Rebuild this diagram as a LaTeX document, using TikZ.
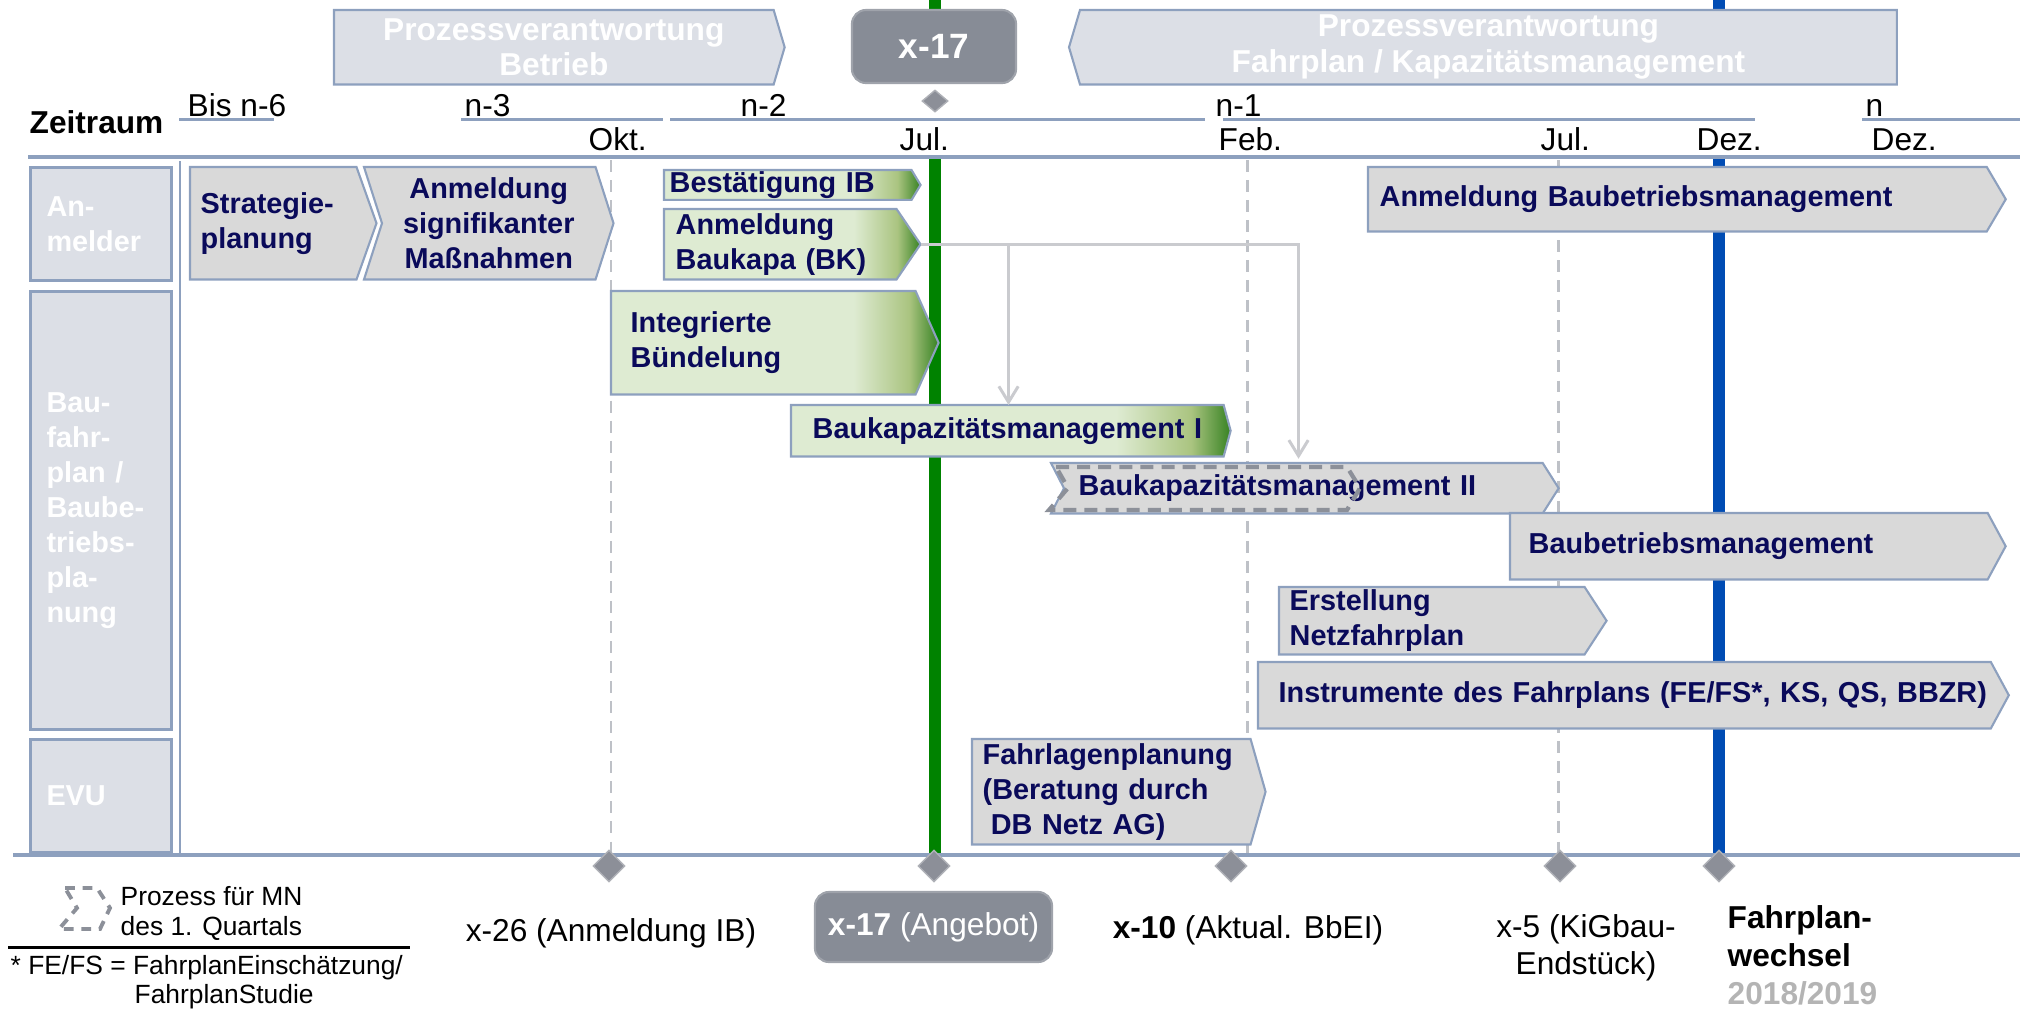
\documentclass[tikz,border=0pt]{standalone}
\usepackage{fontspec}
\setmainfont{Liberation Sans}
\usetikzlibrary{shapes.geometric,calc,arrows.meta}

\definecolor{linie}{HTML}{8DA0BE}
\definecolor{spurfill}{HTML}{DCDFE6}
\definecolor{prozfill}{HTML}{D9D9D9}
\definecolor{dbnavy}{RGB}{10,10,90}
\definecolor{dunkelgrau}{HTML}{878C96}
\definecolor{raute}{HTML}{8C8F98}
\definecolor{gruen}{RGB}{0,130,0}
\definecolor{blau}{RGB}{0,76,180}
\definecolor{strich}{HTML}{BEC1C7}
\definecolor{pfeil}{HTML}{CACBCF}
\definecolor{gl}{RGB}{222,235,210}
\definecolor{gm}{RGB}{170,196,128}
\definecolor{gd}{RGB}{55,130,35}
\definecolor{mngrau}{HTML}{8C9099}
\definecolor{jahr}{HTML}{B4B4B4}

\pgfdeclarehorizontalshading{gruenverlauf}{100bp}{color(0bp)=(gl); color(25bp)=(gl); color(62bp)=(gl); color(70.5bp)=(gm); color(75bp)=(gd); color(100bp)=(gd)}

\pgfdeclarelayer{linien}
\pgfdeclarelayer{hinten}
\pgfsetlayers{linien,hinten,main}

% box outline behind a node: name, notch, tip, style
\newcommand{\chevron}[4]{%
 \begin{pgfonlayer}{hinten}
  \path[#4] ($(#1.north west)+(-#2,0)$) -- (#1.north east) -- ($(#1.east)+(#3,0)$) -- (#1.south east) -- ($(#1.south west)+(-#2,0)$) -- (#1.west) -- cycle;
 \end{pgfonlayer}}

\tikzset{
 spur/.style={draw=linie, line width=0.85pt, fill=spurfill, anchor=north west, text=white, font=\fontsize{8.2}{10}\selectfont\bfseries, align=left, inner xsep=0.16cm, inner ysep=0pt, text width=1.09cm, minimum height=#1},
 kasten/.style={draw=linie, line width=0.6pt, fill=prozfill},
 kopfkasten/.style={draw=linie, line width=0.6pt, fill=spurfill},
 gkasten/.style={draw=linie, line width=0.6pt, shade, shading=gruenverlauf},
 prozess/.style={anchor=north west, inner ysep=0pt, text=dbnavy, font=\fontsize{8.2}{10}\selectfont\bfseries, align=left},
 kopf/.style={anchor=north west, inner sep=0pt, text=white, font=\fontsize{9}{10.2}\selectfont\bfseries, align=center},
 zeit/.style={inner sep=0pt, anchor=base west, font=\fontsize{9}{11}\selectfont},
 unten/.style={inner sep=0pt, font=\fontsize{9}{10.5}\selectfont},
 legende/.style={inner sep=0pt, font=\fontsize{7.5}{8.5}\selectfont},
 meilenstein/.style={diamond, fill=raute, draw=raute!70!white, line width=0.4pt, minimum width=0.32cm, minimum height=0.32cm, inner sep=0pt},
 gitter/.style={strich, line width=0.85pt, dash pattern=on 3.4pt off 2.3pt},
 zweig/.style={pfeil, line width=0.85pt},
 marke/.style={fill=dunkelgrau, draw=dunkelgrau!80!white, line width=0.6pt, rounded corners=4pt, text=white, inner sep=0pt},
}

\begin{document}
\begin{tikzpicture}[x=0.01cm, y=-0.01cm]
 \useasboundingbox (0,0) rectangle (2020,1008);

 % zeitleiste
 \node[zeit, font=\fontsize{9}{11}\selectfont\bfseries] (zeitraum) at (29,133) {Zeitraum};
 \foreach \x/\t/\n in {187/Bis n-6/j6, 464/n-3/j3, 740/n-2/j2, 1215/n-1/j1, 1865/n/j0}
  \node[zeit] (\n) at (\x,116) {\t};
 \foreach \x/\t/\n in {588/Okt./okt, 899/Jul./jul1, 1218/Feb./feb, 1540/Jul./jul2, 1696/Dez./dez1, 1871/Dez./dez2}
  \node[zeit] (\n) at (\x,150) {\t};
 \foreach \a/\b in {179/274, 461/663, 670/1205, 1223/1755, 1862/2020}
  \draw[linie, line width=0.85pt] (\a,119) -- (\b,119);
 \draw[linie, line width=1.15pt] (28,157) -- (2020,157);
 \draw[linie, line width=1.15pt] (13,855) -- (2020,855);
 \draw[linie, line width=0.6pt] (180,161) -- (180,853);

 \begin{pgfonlayer}{linien}
  \foreach \x in {611,1247,1558}
   \draw[gitter] (\x,160) -- (\x,853);
  \draw[gruen, line width=3.5pt] (935,0) -- (935,12) (935,159) -- (935,854);
  \draw[blau, line width=3.6pt] (1719,0) -- (1719,12) (1719,159) -- (1719,854);
 \end{pgfonlayer}

 % spuren
 \node[spur=1.13cm] (anmelder) at (29,166) {An-\\melder};
 \node[spur=4.38cm] (bau) at (29,290) {Bau-\\fahr-\\plan /\\Baube-\\triebs-\\pla-\\nung};
 \node[spur=1.13cm] (evu) at (29,738) {EVU};

 % kopf
 \node[kopf, minimum width=4.38cm, minimum height=0.73cm] (betrieb) at (334,10) {Prozessverantwortung\\Betrieb};
 \chevron{betrieb}{0}{11}{kopfkasten}
 \node[kopf, minimum width=8.15cm, minimum height=0.73cm] (fahrplan) at (1080,10) {Prozessverantwortung\\Fahrplan / Kapazitätsmanagement};
 \begin{pgfonlayer}{hinten}
  \path[kopfkasten] (fahrplan.north west) -- (fahrplan.north east) -- (fahrplan.south east) -- (fahrplan.south west) -- ($(fahrplan.west)+(-11,0)$) -- cycle;
 \end{pgfonlayer}
 \node[marke, minimum width=1.64cm, minimum height=0.73cm, font=\fontsize{10}{12}\selectfont\bfseries] (xoben) at (934,46.5) {x-17};
 \node[meilenstein, minimum width=0.26cm, minimum height=0.22cm] (moben) at (935,101) {};

 % prozesse
 \node[prozess, inner xsep=0.1cm, text width=1.45cm, minimum height=1.11cm] (strategie) at (190,167) {Strategie-\\planung};
 \chevron{strategie}{0}{20}{kasten}
 \node[prozess, align=center, inner xsep=0pt, text width=2.12cm, minimum height=1.11cm] (signifikant) at (382,167) {Anmeldung\\signifikanter\\Maßnahmen};
 \chevron{signifikant}{18}{18}{kasten}
 \node[prozess, inner xsep=0.05cm, text width=2.36cm, text height=6.3pt, text depth=1.8pt] (bestaetigung) at (664,170) {\mbox{Bestätigung IB}};
 \chevron{bestaetigung}{0}{9}{gkasten}
 \node[prozess, inner xsep=0.11cm, text width=2.09cm, minimum height=0.69cm] (baukapa) at (664,209) {Anmeldung\\Baukapa (BK)};
 \chevron{baukapa}{0}{24}{gkasten}
 \node[prozess, inner xsep=0.19cm, text width=2.65cm, minimum height=1.02cm] (buendelung) at (611,291) {Integrierte\\Bündelung};
 \chevron{buendelung}{0}{23}{gkasten}
 \node[prozess, inner xsep=0.21cm, text width=3.89cm, minimum height=0.5cm] (bkmeins) at (791,405) {\mbox{Baukapazitätsmanagement I}};
 \chevron{bkmeins}{0}{7}{gkasten}
 \node[prozess, inner xsep=0.14cm, text width=4.49cm, minimum height=0.49cm] (bkmzwei) at (1064,463) {\mbox{Baukapazitätsmanagement II}};
 \chevron{bkmzwei}{13}{16}{kasten}
 \draw[mngrau, line width=1.2pt, dash pattern=on 3.7pt off 2.3pt] (1056,467) -- (1347,467) -- (1360,488) -- (1347,510) -- (1049,510) -- (1068,488) -- cycle;
 \node[prozess, inner xsep=0.11cm, text width=5.95cm, minimum height=0.63cm] (anmbbm) at (1368,167) {\mbox{Anmeldung Baubetriebsmanagement}};
 \chevron{anmbbm}{0}{19}{kasten}
 \node[prozess, inner xsep=0.18cm, text width=4.40cm, minimum height=0.65cm] (bbm) at (1510,513) {\mbox{Baubetriebsmanagement}};
 \chevron{bbm}{0}{18}{kasten}
 \node[prozess, inner xsep=0.1cm, text width=2.84cm, minimum height=0.66cm] (netzfahrplan) at (1279,587) {Erstellung\\Netzfahrplan};
 \chevron{netzfahrplan}{0}{22}{kasten}
 \node[prozess, inner xsep=0.2cm, text width=6.91cm, minimum height=0.65cm] (instrumente) at (1258,662) {\mbox{Instrumente des Fahrplans (FE/FS*, KS, QS, BBZR)}};
 \chevron{instrumente}{0}{18}{kasten}
 \node[prozess, inner xsep=0.1cm, text width=2.57cm, minimum height=1.04cm] (fahrlagen) at (972,739) {Fahrlagenplanung\\(Beratung durch\\\hspace*{2.3pt}DB Netz AG)};
 \chevron{fahrlagen}{0}{15}{kasten}

 % zweige
 \coordinate (bkspitze) at ($(baukapa.east)+(24,0)$);
 \path (bkspitze) ++(88,0) coordinate (abzweig);
 \path (bkspitze) ++(378,0) coordinate (knick);
 \draw[zweig, -{Straight Barb[length=4.5pt,width=5.5pt]}, shorten >=1.2pt] (bkspitze) -| (knick |- bkmzwei.north);
 \draw[zweig, -{Straight Barb[length=4.5pt,width=5.5pt]}] (abzweig) -- (abzweig |- bkmeins.north);

 % meilensteine
 \foreach \x/\n in {609/m26, 934/m17, 1231/m10, 1560/m5, 1719/mwechsel}
  \node[meilenstein] (\n) at (\x,866) {};
 \node[unten] (lx26) at (611,933) {x-26 (Anmeldung IB)};
 \node[marke, minimum width=2.37cm, minimum height=0.70cm, font=\fontsize{9}{11}\selectfont] (lx17) at (933.5,927) {\textbf{x-17} (Angebot)};
 \node[unten] (lx10) at (1248,930) {\textbf{x-10} (Aktual. BbEI)};
 \node[unten, align=center] (lx5) at (1586,948) {x-5 (KiGbau-\\Endstück)};
 \node[unten, anchor=west, align=left, font=\fontsize{9}{10.8}\selectfont\bfseries] (lwechsel) at (1727,955) {Fahrplan-\\wechsel\\\textcolor{jahr}{2018/2019}};

 % legende
 \draw[mngrau, line width=1.1pt, dash pattern=on 2.8pt off 2.2pt] (65,888) -- (97,888) -- (110,908) -- (100,929) -- (59,929) -- (77,908) -- cycle;
 \node[legende, anchor=west, align=left] (mnlegende) at (120,913) {Prozess für MN\\des 1. Quartals};
 \draw[black, line width=0.85pt] (8,947) -- (410,947);
 \node[legende, anchor=west] (fefs) at (10,968) {* FE/FS = FahrplanEinschätzung/};
 \node[legende, anchor=west] (fefsb) at (134,997) {FahrplanStudie};
\end{tikzpicture}
\end{document}
